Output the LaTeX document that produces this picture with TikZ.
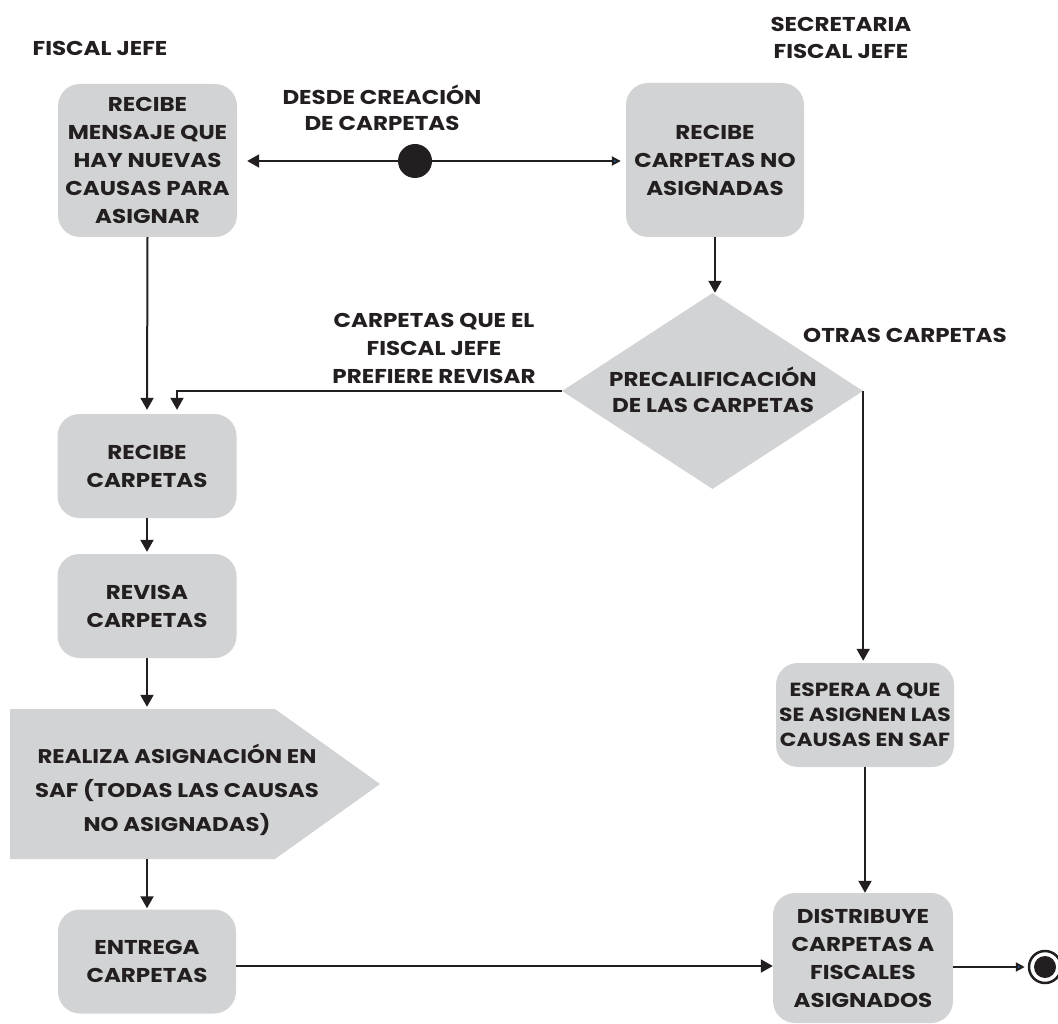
\documentclass[tikz,border=0pt]{standalone}
\usepackage{fontspec}
\setmainfont{Poppins}[FakeStretch=1.15]
\usetikzlibrary{shapes.geometric,arrows.meta}
\definecolor{boxgray}{HTML}{D1D3D4}
\definecolor{ink}{HTML}{231F20}
\definecolor{tipblue}{HTML}{1F5C99}
\begin{document}
\begin{tikzpicture}[x=1pt,y=-1pt,
  every node/.style={font=\bfseries\fontsize{20}{28}\selectfont, text=ink},
  box/.style={rectangle, rounded corners=22pt, fill=boxgray, inner sep=0pt, align=center, minimum width=179pt},
  lbl/.style={align=center, inner sep=0pt},
  flow/.style={draw=ink, line width=2pt, -{Triangle[length=12pt,width=13pt]}},
  bflow/.style={draw=ink, line width=2pt, -{Triangle[length=9pt,width=9pt,fill=tipblue]}},
]
\useasboundingbox (0,0) rectangle (1058,1024);

% boxes
\node[box, minimum height=153pt] (b1) at (147.5,160.5) {RECIBE\\MENSAJE QUE\\HAY NUEVAS\\CAUSAS PARA\\ASIGNAR};
\node[box, minimum height=154pt, minimum width=178pt] (b2) at (715,160) {RECIBE\\CARPETAS NO\\ASIGNADAS};
\node[diamond, fill=boxgray, minimum width=301pt, minimum height=196pt, inner sep=0pt] (d) at (712.5,391) {};
\node[lbl, font=\bfseries\fontsize{20}{26}\selectfont] (dt) at (713,390) {PRECALIFICACIÓN\\DE LAS CARPETAS};
\node[box, minimum height=104pt] (b3) at (147,466) {RECIBE\\CARPETAS};
\node[box, minimum height=104pt] (b4) at (147,606) {REVISA\\CARPETAS};
\fill[boxgray] (10,709) -- (275,709) -- (380,784) -- (275,859) -- (10,859) -- cycle;
\node[inner sep=0pt, minimum width=265pt, minimum height=150pt] (pent) at (142.5,784) {};
\node[lbl, font=\bfseries\fontsize{19.8}{34}\selectfont] (pt) at (177,790) {REALIZA ASIGNACIÓN EN\\SAF (TODAS LAS CAUSAS\\NO ASIGNADAS)};
\node[box, minimum height=104pt, minimum width=178pt] (b5) at (147,961.5) {ENTREGA\\CARPETAS};
\node[box, minimum height=104pt, minimum width=178pt, font=\bfseries\fontsize{19}{25}\selectfont] (esp) at (865,715) {ESPERA A QUE\\SE ASIGNEN LAS\\CAUSAS EN SAF};
\node[box, minimum height=130pt, minimum width=180pt] (dis) at (863,958) {DISTRIBUYE\\CARPETAS A\\FISCALES\\ASIGNADOS};

% start / end
\node[circle, fill=ink, minimum size=34pt, inner sep=0pt] (start) at (415,161) {};
\node[circle, draw=ink, line width=2.5pt, fill=white, minimum size=32pt, inner sep=0pt] (end) at (1045,967) {};
\node[circle, fill=ink, minimum size=22pt, inner sep=0pt] (endin) at (end.center) {};

% labels
\node[lbl] (lfj) at (100,48) {FISCAL JEFE};
\node[lbl, font=\bfseries\fontsize{20}{27}\selectfont] (lsec) at (841,38) {SECRETARIA\\FISCAL JEFE};
\node[lbl, font=\bfseries\fontsize{20}{26}\selectfont] (ldesde) at (382,108) {DESDE CREACIÓN\\DE CARPETAS};
\node[lbl] (lcq) at (434,348) {CARPETAS QUE EL\\FISCAL JEFE\\PREFIERE REVISAR};
\node[lbl] (lotras) at (905,335) {OTRAS CARPETAS};

% connectors
\draw[flow, shorten >=10pt] (start) -- (b1.east |- start);
\draw[bflow, shorten >=5pt] (start) -- (b2.west |- start);
\draw[flow] (b2.south) -- (b2.south |- d.north);
\draw[flow, shorten >=4pt] (b1.south) -- (b3.north);
\draw[flow, shorten >=4pt] (d.west) -| ([xshift=30pt]b3.north);
\draw[flow, shorten >=2pt] (d.east) -- (d.east |- esp.north);
\draw[flow, shorten >=2pt] (b3.south) -- (b4.north);
\draw[flow, shorten >=2pt] (b4.south) -- (b4.south |- pent.north);
\draw[flow, shorten >=1pt] (b5.north |- pent.south) -- (b5.north);
\draw[flow] ([yshift=-4.5pt]b5.east) -- ([yshift=-4.5pt]b5.east -| dis.west);
\draw[flow] (esp.south) -- (esp.south |- dis.north);
\draw[bflow, shorten >=3pt] (dis.east |- end) -- (end.west);
\end{tikzpicture}
\end{document}
